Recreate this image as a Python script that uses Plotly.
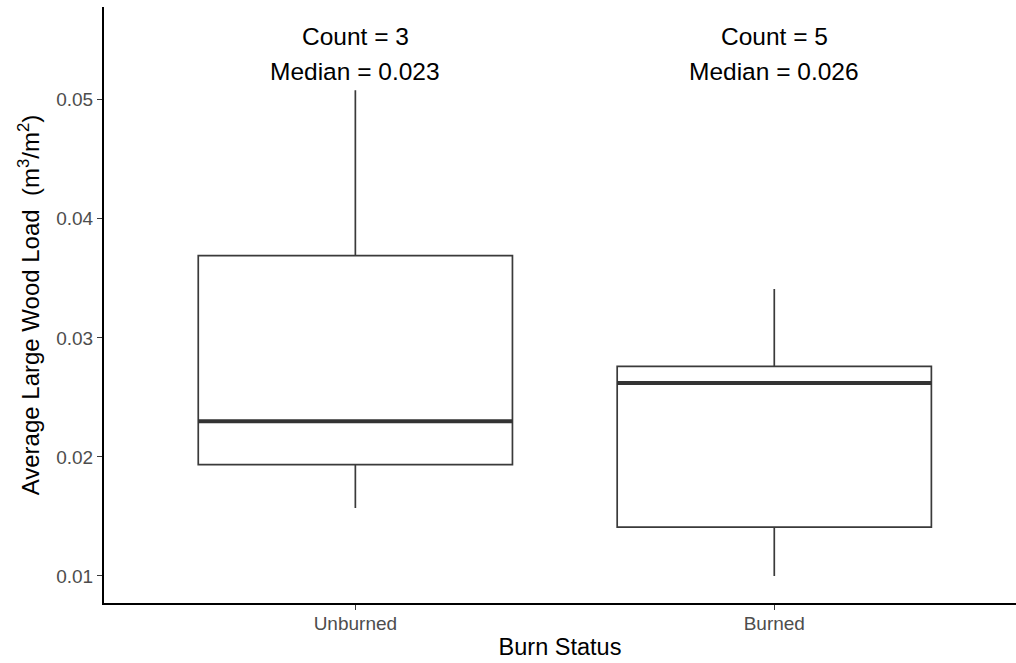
import plotly.graph_objects as go

# Summary statistics of large wood load per burn status (m^3/m^2)
categories = ["Unburned", "Burned"]
counts = [3, 5]
lower_whisker = [0.0157, 0.0100]
q1_values = [0.01935, 0.0141]
median_values = [0.0230, 0.0262]
q3_values = [0.0369, 0.0276]
upper_whisker = [0.0508, 0.0341]

y_tick_values = [0.01, 0.02, 0.03, 0.04, 0.05]
y_tick_labels = ["0.01", "0.02", "0.03", "0.04", "0.05"]

BOX_WIDTH = 0.75
LINE_COLOR = "#3a3a3a"
FONT = "Liberation Sans, Arial, sans-serif"

fig = go.Figure()

fig.add_trace(go.Box(
    x=categories,
    q1=q1_values,
    median=median_values,
    q3=q3_values,
    lowerfence=lower_whisker,
    upperfence=upper_whisker,
    width=BOX_WIDTH,
    whiskerwidth=0,
    fillcolor="white",
    line=dict(color=LINE_COLOR, width=1.7),
    boxpoints=False,
    showlegend=False,
    hoverinfo="skip",
))

# Thicker median bars drawn on top of each box
for i, med in enumerate(median_values):
    fig.add_shape(
        type="line", xref="x", yref="y",
        x0=i - BOX_WIDTH / 2, x1=i + BOX_WIDTH / 2,
        y0=med, y1=med,
        line=dict(color="#333333", width=4),
        layer="above",
    )

# Count / median labels above each group
for cat, n, med in zip(categories, counts, median_values):
    fig.add_annotation(x=cat, xref="x", y=0.951, yref="paper",
                       text=f"Count = {n}", showarrow=False,
                       font=dict(size=24.5, color="black", family=FONT),
                       yanchor="middle", xanchor="center")
    fig.add_annotation(x=cat, xref="x", y=0.8926, yref="paper",
                       text=f"Median = {med:.3f}", showarrow=False,
                       font=dict(size=24.5, color="black", family=FONT),
                       yanchor="middle", xanchor="center")

fig.update_layout(
    width=1016,
    height=663,
    margin=dict(l=104, r=0, t=7, b=60),
    paper_bgcolor="white",
    plot_bgcolor="white",
    font=dict(family=FONT),
    xaxis=dict(
        type="category",
        categoryorder="array",
        categoryarray=categories,
        range=[-0.6, 1.577],
        showline=True,
        linecolor="black",
        linewidth=2,
        showgrid=False,
        zeroline=False,
        ticks="outside",
        ticklen=5,
        tickwidth=1.3,
        tickcolor=LINE_COLOR,
        ticklabelstandoff=-3,
        tickfont=dict(size=19, color="#4D4D4D"),
        title=dict(text="Burn Status", font=dict(size=23.5, color="black"), standoff=6),
    ),
    yaxis=dict(
        range=[0.00773, 0.05779],
        tickvals=y_tick_values,
        ticktext=y_tick_labels,
        showline=True,
        linecolor="black",
        linewidth=2,
        showgrid=False,
        zeroline=False,
        ticks="outside",
        ticklen=5,
        tickwidth=1.3,
        tickcolor=LINE_COLOR,
        tickfont=dict(size=19, color="#4D4D4D"),
        title=dict(text="Average Large Wood Load  (m<sup>3</sup>/m<sup>2</sup>)",
                   font=dict(size=24, color="black"), standoff=10),
    ),
)

fig.write_html("out.html")
